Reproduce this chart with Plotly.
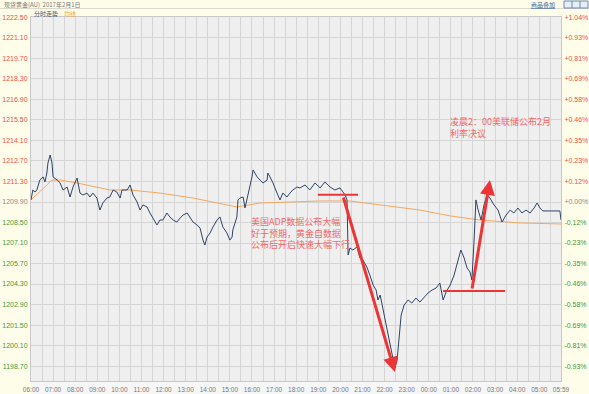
import plotly.graph_objects as go

# ---------------- data ----------------
price_times = ["06:00","06:05","06:11","06:16","06:24","06:33","06:38","06:43","06:46","06:52","06:57",
    "07:00","07:11","07:19","07:27","07:38","07:46","07:54","08:05","08:13","08:21","08:32","08:40","08:48",
    "08:59","09:07","09:15","09:26","09:34","09:43","09:53","10:02","10:07","10:21","10:29","10:37","10:48",
    "10:56","11:04","11:15","11:23","11:31","11:42","11:50","11:58","12:09","12:17","12:26","12:36","12:45",
    "12:53","13:04","13:12","13:20","13:31","13:39","13:47","13:52","13:58","14:06","14:14","14:25","14:33",
    "14:41","14:52","15:00","15:06","15:08","15:19","15:22","15:27","15:36","15:41","15:46","15:55","16:00",
    "16:03","16:14","16:22","16:30","16:41","16:43","16:49","16:57","17:08","17:16","17:24","17:35","17:43",
    "17:51","18:02","18:10","18:24","18:37","18:51","19:05","19:18","19:32","19:45","19:59","20:07","20:13",
    "20:18","20:21","20:26","20:34","20:45","20:53","21:01","21:12","21:20","21:29","21:37","21:42","21:48",
    "21:56","22:04","22:12","22:20","22:28","22:34","22:39","22:45","22:53","23:04","23:14","23:25","23:36",
    "23:47","23:58","00:09","00:20","00:30","00:39","00:47","00:58","01:08","01:19","01:27","01:36","01:44",
    "01:52","01:57","02:03","02:08","02:14","02:22","02:30","02:38","02:46","02:57","03:08","03:19","03:30",
    "03:41","03:51","04:02","04:13","04:24","04:35","04:46","04:54","05:02","05:10","05:56","05:59"]
price_values = [1210.04,1210.72,1210.58,1210.72,1211.40,1211.61,1211.27,1211.88,1212.56,1213.11,1212.56,
    1211.61,1211.40,1211.20,1210.72,1210.92,1210.24,1210.92,1211.54,1210.51,1210.38,1210.51,1210.24,1210.51,
    1210.17,1209.35,1209.83,1210.17,1210.24,1210.72,1210.58,1210.17,1210.72,1210.72,1211.06,1210.38,1209.90,
    1209.35,1209.70,1209.56,1209.15,1208.81,1208.33,1208.67,1208.67,1209.15,1208.88,1208.67,1208.53,1208.81,
    1209.01,1209.15,1208.88,1208.53,1208.33,1208.12,1207.30,1206.96,1207.51,1207.78,1208.19,1208.67,1208.88,
    1208.19,1207.78,1207.30,1207.51,1207.99,1208.88,1210.04,1210.17,1210.24,1209.49,1210.04,1210.92,1211.61,
    1212.09,1211.61,1211.40,1211.20,1211.40,1211.88,1211.61,1211.20,1210.51,1210.04,1210.51,1210.24,1210.51,
    1210.72,1210.92,1210.86,1211.06,1210.72,1211.20,1210.86,1211.27,1210.92,1210.72,1210.86,1210.58,1210.38,
    1210.04,1206.28,1206.76,1206.62,1206.83,1206.08,1205.94,1205.46,1204.91,1204.23,1203.89,1203.21,1203.55,
    1202.52,1201.50,1200.48,1199.45,1198.56,1199.11,1200.48,1202.18,1202.87,1203.21,1203.00,1203.34,1203.07,
    1203.41,1203.69,1203.89,1204.03,1204.37,1203.21,1203.75,1204.23,1204.85,1205.80,1206.62,1206.08,1205.39,
    1205.12,1204.57,1207.30,1210.04,1209.35,1208.67,1209.70,1210.38,1210.17,1209.70,1209.35,1208.53,1209.01,
    1209.35,1209.15,1209.49,1209.15,1209.35,1209.15,1209.49,1209.83,1209.49,1209.29,1209.29,1208.67]

avg_times = ["06:00","06:24","06:43","06:57","07:19","08:05","09:34","10:29","11:50","13:20","14:52",
    "15:19","16:22","17:51","19:05","20:26","21:48","23:36","00:58","02:19","04:08","05:59"]
avg_values = [1210.04,1210.58,1211.06,1211.40,1211.40,1211.20,1210.72,1210.72,1210.51,1210.17,1209.70,
    1209.56,1209.83,1209.90,1209.97,1209.97,1209.70,1209.35,1208.95,1208.67,1208.47,1208.40]

ref_price = 1209.90
price_ticks = [1222.50,1221.10,1219.70,1218.30,1216.90,1215.50,1214.10,1212.70,1211.30,1209.90,
    1208.50,1207.10,1205.70,1204.30,1202.90,1201.50,1200.10,1198.70]
price_tick_labels = ["1222.50","1221.10","1219.70","1218.30","1216.90","1215.50","1214.10","1212.70",
    "1211.30","1209.90","1208.50","1207.10","1205.70","1204.30","1202.90","1201.50","1200.10","1198.70"]
pct_tick_labels = ["+1.04%","+0.93%","+0.81%","+0.69%","+0.58%","+0.46%","+0.35%","+0.23%","+0.12%",
    "+0.00%","-0.12%","-0.23%","-0.35%","-0.46%","-0.58%","-0.69%","-0.81%","-0.93%"]
hour_labels = ["06:00","07:00","08:00","09:00","10:00","11:00","12:00","13:00","14:00","15:00","16:00",
    "17:00","18:00","19:00","20:00","21:00","22:00","23:00","00:00","01:00","02:00","03:00","04:00","05:00"]
end_label = "05:59"

adp_level_times = ["18:59", "20:48"]
adp_level_price = 1210.40
fed_level_times = ["00:39", "03:27"]
fed_level_price = 1203.82
drop_arrow_times = ["20:07", "22:28"]
drop_arrow_prices = [1210.31, 1198.29]
rise_arrow_times = ["01:57", "02:46"]
rise_arrow_prices = [1203.89, 1211.40]

adp_note = ["美国ADP数据公布大幅", "好于预期，黄金自数据", "公布后开启快速大幅下行"]
adp_note_time = "15:55"
adp_note_price = 1207.78
fed_note = ["凌晨2：00美联储公布2月", "利率决议"]
fed_note_time = "00:55"
fed_note_price = 1214.99

header_title = "现货黄金(AU)  2017年2月1日"
tab_label = "分时走势"
avg_label = "均线"
overlay_label = "商品叠加"


def to_dt(t):
    h, m = map(int, t.split(":"))
    day = 1 if h >= 6 else 2
    return f"2017-02-0{day} {h:02d}:{m:02d}"


# ---------------- style ----------------
W, H = 589, 394
ML, MR, MT, MB = 31, 28, 17, 13
PW, PH = W - ML - MR, H - MT - MB
CREAM = "#fefde9"
RED_TXT = "#f0504a"
GREEN_TXT = "#3f9a3f"
ARROW_RED = "#ee3535"
NOTE_RED = "#f26a6a"
NUM_FONT = "Liberation Sans"
CJK_FONT = "Noto Sans CJK SC"


def px_x(px):
    return (px - ML) / PW


def px_y(py):
    return (H - MB - py) / PH


def colored(label, value):
    if value > ref_price + 1e-9:
        c = RED_TXT
    elif value < ref_price - 1e-9:
        c = GREEN_TXT
    else:
        c = "#8a8a8a"
    return f'<span style="color:{c}">{label}</span>'


left_text = [colored(l, v) for l, v in zip(price_tick_labels, price_ticks)]
right_text = [colored(l, v) for l, v in zip(pct_tick_labels, price_ticks)]

# x ticks every 30 minutes, labels on the hour
x_tickvals, x_ticktext = [], []
for lab in hour_labels:
    h = int(lab[:2])
    x_tickvals.append(to_dt(lab))
    x_ticktext.append(lab)
    x_tickvals.append(to_dt(f"{h:02d}:30"))
    x_ticktext.append("")
x_tickvals.append(to_dt(end_label))
x_ticktext.append(end_label)

fig = go.Figure()
fig.add_trace(go.Scatter(x=[to_dt(t) for t in avg_times], y=avg_values, mode="lines",
                         line=dict(color="#f5a760", width=1), hoverinfo="skip"))
fig.add_trace(go.Scatter(x=[to_dt(t) for t in price_times], y=price_values, mode="lines",
                         line=dict(color="#2c4466", width=1), hoverinfo="skip"))
# invisible helper so the right-hand axis is drawn
fig.add_trace(go.Scatter(x=[to_dt(price_times[0])], y=[price_values[0]], yaxis="y2",
                         mode="markers", marker=dict(opacity=0), hoverinfo="skip"))

# red level lines
for times, level in ((adp_level_times, adp_level_price), (fed_level_times, fed_level_price)):
    fig.add_trace(go.Scatter(x=[to_dt(t) for t in times], y=[level, level], mode="lines",
                             line=dict(color=ARROW_RED, width=2), hoverinfo="skip"))

yr = [1197.68, 1222.53]
grid = "#d5d5d5"
fig.update_layout(
    template="none",
    width=W, height=H, margin=dict(l=ML, r=MR, t=MT, b=MB, pad=0, autoexpand=False),
    paper_bgcolor=CREAM, plot_bgcolor="#efefef", showlegend=False,
    font=dict(family=NUM_FONT, size=7, color="#666"),
    xaxis=dict(type="date", range=[to_dt(hour_labels[0]), to_dt(end_label)], automargin=False,
               tickmode="array", tickvals=x_tickvals, ticktext=x_ticktext,
               showgrid=True, gridcolor=grid, gridwidth=1, zeroline=False,
               showline=True, linecolor="#c8c8c8", mirror=True, ticks="",
               tickfont=dict(size=6.5, color="#777"), ticklabelstandoff=2),
    yaxis=dict(range=yr, tickmode="array", tickvals=price_ticks, ticktext=left_text, automargin=False,
               showgrid=True, gridcolor=grid, gridwidth=1, zeroline=False,
               showline=True, linecolor="#c8c8c8", ticks="", ticklabelstandoff=1,
               tickfont=dict(size=7)),
    yaxis2=dict(range=yr, overlaying="y", side="right", tickmode="array", automargin=False,
                tickvals=price_ticks, ticktext=right_text, showgrid=False, zeroline=False,
                showline=True, linecolor="#c8c8c8", ticks="", ticklabelstandoff=1,
                tickfont=dict(size=7)),
)

shapes = [
    # bottom strip under the plot
    dict(type="rect", xref="paper", yref="paper", x0=0, x1=1, y0=px_y(H), y1=0,
         fillcolor="#f6f6f6", line=dict(width=0), layer="below"),
    # header separator line
    dict(type="line", xref="paper", yref="paper", x0=px_x(0), x1=px_x(W), y0=px_y(8.5), y1=px_y(8.5),
         line=dict(color="#d9d9cc", width=1)),
    # top-right icons
    dict(type="rect", xref="paper", yref="paper", x0=px_x(564), x1=px_x(588), y0=px_y(8), y1=px_y(1),
         fillcolor="#e8eef5", line=dict(color="#6a8bb0", width=1)),
]
for xv in (572, 580):
    shapes.append(dict(type="line", xref="paper", yref="paper", x0=px_x(xv), x1=px_x(xv),
                       y0=px_y(8), y1=px_y(1), line=dict(color="#6a8bb0", width=1)))
fig.update_layout(shapes=shapes)

ann = []
# arrows
for times, prices in ((drop_arrow_times, drop_arrow_prices), (rise_arrow_times, rise_arrow_prices)):
    ann.append(dict(x=to_dt(times[1]), y=prices[1], ax=to_dt(times[0]), ay=prices[0],
                    xref="x", yref="y", axref="x", ayref="y", text="", showarrow=True,
                    arrowhead=2, arrowsize=1.0, arrowwidth=3, arrowcolor=ARROW_RED))
# notes
ann.append(dict(x=to_dt(adp_note_time), y=adp_note_price, xref="x", yref="y",
                text="<br>".join(adp_note), showarrow=False, align="left",
                xanchor="left", yanchor="middle", borderpad=0,
                font=dict(family=CJK_FONT, size=9, color=NOTE_RED)))
ann.append(dict(x=to_dt(fed_note_time), y=fed_note_price, xref="x", yref="y",
                text="<br>".join(fed_note), showarrow=False, align="left",
                xanchor="left", yanchor="middle", borderpad=0,
                font=dict(family=CJK_FONT, size=9, color=NOTE_RED)))
# header texts
ann.append(dict(x=px_x(2), y=px_y(4.5), xref="paper", yref="paper", text=header_title,
                showarrow=False, xanchor="left", yanchor="middle",
                font=dict(family=CJK_FONT, size=6, color="#777")))
ann.append(dict(x=px_x(32), y=px_y(13), xref="paper", yref="paper", text=tab_label,
                showarrow=False, xanchor="left", yanchor="middle",
                font=dict(family=CJK_FONT, size=6, color="#34506e")))
ann.append(dict(x=px_x(62), y=px_y(13), xref="paper", yref="paper", text=avg_label,
                showarrow=False, xanchor="left", yanchor="middle",
                font=dict(family=CJK_FONT, size=6, color="#f0a040")))
ann.append(dict(x=px_x(529), y=px_y(4.5), xref="paper", yref="paper", text=f"<u>{overlay_label}</u>",
                showarrow=False, xanchor="left", yanchor="middle",
                font=dict(family=CJK_FONT, size=6, color="#34609a")))
fig.update_layout(annotations=ann)

fig.write_html("out.html", config={"displayModeBar": False},
               post_script="document.body.style.margin='0';")
